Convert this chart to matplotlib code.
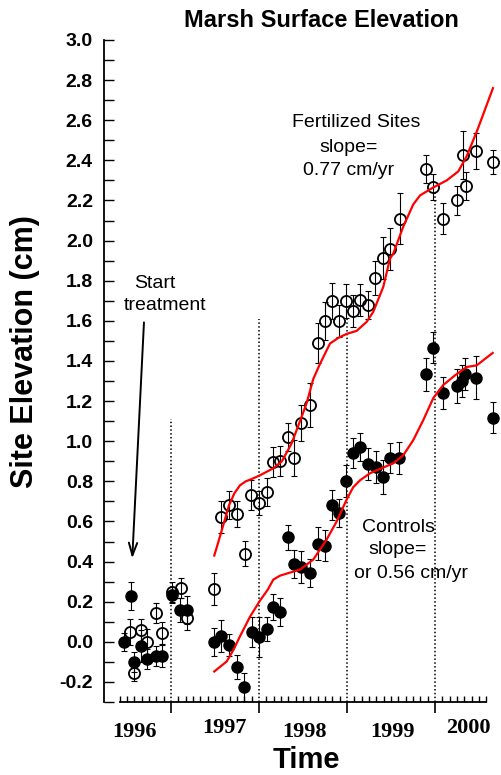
"""
Marsh surface elevation - fertilized vs control sites, 1996-2000.
"""

import matplotlib
matplotlib.use("Agg")
import matplotlib.pyplot as plt
import numpy as np

# --- data (x in decimal years, y in cm) -------------------------------------

ctrl_x = [1996.466, 1996.542, 1996.580, 1996.656, 1996.731, 1996.826, 1996.901,
          1997.015, 1997.102, 1997.185, 1997.492, 1997.568, 1997.659, 1997.747,
          1997.833, 1997.917, 1998.000, 1998.088, 1998.163, 1998.239, 1998.326,
          1998.401, 1998.477, 1998.580, 1998.674, 1998.750, 1998.826, 1998.909,
          1998.989, 1999.072, 1999.148, 1999.239, 1999.330, 1999.406, 1999.494,
          1999.594, 1999.898, 1999.981, 2000.094, 2000.253, 2000.303, 2000.341,
          2000.463, 2000.656]
ctrl_y = [0.00, 0.23, -0.10, -0.02, -0.085, -0.07, -0.07,
          0.235, 0.16, 0.16, 0.00, 0.03, -0.015, -0.125,
          -0.225, 0.05, 0.025, 0.065, 0.175, 0.15, 0.52,
          0.39, 0.375, 0.345, 0.49, 0.48, 0.68, 0.64,
          0.80, 0.94, 0.97, 0.885, 0.87, 0.82, 0.915,
          0.915, 1.333, 1.466, 1.24, 1.275, 1.30, 1.333,
          1.317, 1.118]
ctrl_err = [0.045, 0.07, 0.05, 0.08, 0.05, 0.05, 0.055,
            0.04, 0.06, 0.07, 0.07, 0.08, 0.055, 0.06,
            0.07, 0.075, 0.10, 0.06, 0.065, 0.07, 0.06,
            0.07, 0.08, 0.07, 0.08, 0.075, 0.075, 0.07,
            0.08, 0.075, 0.07, 0.08, 0.08, 0.085, 0.075,
            0.08, 0.083, 0.078, 0.078, 0.083, 0.08, 0.08,
            0.107, 0.075]

fert_x = [1996.534, 1996.580, 1996.656, 1996.731, 1996.826, 1996.901,
          1997.015, 1997.110, 1997.185, 1997.492, 1997.572, 1997.659,
          1997.747, 1997.838, 1997.913, 1997.997, 1998.088, 1998.156,
          1998.239, 1998.326, 1998.398, 1998.477, 1998.580, 1998.670,
          1998.750, 1998.826, 1998.906, 1998.992, 1999.072, 1999.151,
          1999.242, 1999.324, 1999.406, 1999.492, 1999.602, 1999.898,
          1999.981, 2000.094, 2000.256, 2000.315, 2000.352, 2000.466,
          2000.656]
fert_y = [0.05, -0.155, 0.06, 0.00, 0.145, 0.045,
          0.25, 0.27, 0.12, 0.265, 0.62, 0.68,
          0.635, 0.44, 0.73, 0.69, 0.745, 0.895,
          0.90, 1.02, 0.915, 1.09, 1.18, 1.49,
          1.60, 1.70, 1.60, 1.70, 1.65, 1.705,
          1.68, 1.815, 1.915, 1.96, 2.11, 2.357,
          2.265, 2.11, 2.20, 2.425, 2.27, 2.448,
          2.39]
fert_err = [0.065, 0.04, 0.055, 0.065, 0.05, 0.055,
            0.05, 0.05, 0.06, 0.08, 0.08, 0.07,
            0.065, 0.063, 0.075, 0.06, 0.07, 0.075,
            0.075, 0.07, 0.09, 0.09, 0.11, 0.10,
            0.095, 0.09, 0.08, 0.085, 0.08, 0.08,
            0.07, 0.085, 0.105, 0.105, 0.125, 0.07,
            0.065, 0.075, 0.07, 0.12, 0.07, 0.09,
            0.06]

# red model curves
fert_fit_x = [1997.492, 1997.540, 1997.580, 1997.659, 1997.720, 1997.784,
              1997.850, 1997.909, 1998.011, 1998.163, 1998.261, 1998.372,
              1998.466, 1998.542, 1998.617, 1998.693, 1998.807, 1998.901,
              1998.997, 1999.110, 1999.224, 1999.299, 1999.413, 1999.489,
              1999.526, 1999.640, 1999.753, 1999.830, 1999.886, 1999.981,
              2000.133, 2000.265, 2000.360, 2000.481, 2000.659]
fert_fit_y = [0.43, 0.50, 0.56, 0.68, 0.74, 0.78,
              0.80, 0.81, 0.83, 0.865, 0.90, 0.99,
              1.10, 1.19, 1.31, 1.385, 1.487, 1.515,
              1.535, 1.55, 1.595, 1.645, 1.77, 1.91,
              1.935, 2.07, 2.18, 2.225, 2.24, 2.265,
              2.30, 2.345, 2.42, 2.55, 2.76]
ctrl_fit_x = [1997.492, 1997.633, 1997.710, 1997.784, 1997.898, 1998.011,
              1998.100, 1998.163, 1998.240, 1998.315, 1998.466, 1998.617,
              1998.769, 1998.883, 1998.997, 1999.070, 1999.148, 1999.261,
              1999.338, 1999.526, 1999.640, 1999.753, 1999.867, 1999.981,
              2000.094, 2000.227, 2000.360, 2000.474, 2000.656]
ctrl_fit_y = [-0.148, -0.098, -0.04, 0.027, 0.125, 0.205,
              0.26, 0.31, 0.33, 0.34, 0.36, 0.41,
              0.51, 0.60, 0.71, 0.77, 0.805, 0.84,
              0.855, 0.89, 0.93, 1.005, 1.105, 1.215,
              1.28, 1.328, 1.37, 1.378, 1.44]

# dotted year dividers and how high they reach
divider_years = [1997, 1998, 1999, 2000]
divider_tops = [1.11, 1.61, 1.61, 2.24]

year_labels = ["1996", "1997", "1998", "1999", "2000"]
year_label_x = [1996.59, 1997.61, 1998.52, 1999.52, 2000.38]
year_label_y = [-0.45, -0.43, -0.45, -0.45, -0.43]

SANS = "Liberation Sans"
SERIF = "Liberation Serif"

fig = plt.figure(figsize=(5.02, 7.75), dpi=100)
ax = fig.add_axes([0.2072, 0.0942, 0.7888, 0.8542])

ax.vlines(divider_years, -0.3, divider_tops, colors="black",
          linestyles=(0, (1, 1.5)), linewidth=1.1, zorder=1)

ax.errorbar(fert_x, fert_y, yerr=fert_err, fmt="none", ecolor="black",
            elinewidth=0.8, capsize=2.5, capthick=0.8, zorder=2)
ax.errorbar(ctrl_x, ctrl_y, yerr=ctrl_err, fmt="none", ecolor="black",
            elinewidth=0.8, capsize=2.5, capthick=0.8, zorder=2)
ax.plot(fert_x, fert_y, "o", ms=8, mfc="none", mec="black", mew=1.3,
        zorder=3)
ax.plot(ctrl_x, ctrl_y, "o", ms=8, mfc="black", mec="black", zorder=3)

ax.plot(fert_fit_x, fert_fit_y, color="red", lw=1.6, zorder=4)
ax.plot(ctrl_fit_x, ctrl_fit_y, color="red", lw=1.6, zorder=4)

ax.set_xlim(1996.239, 2000.739)
ax.set_ylim(-0.30, 3.0)

for s in ("top", "right"):
    ax.spines[s].set_visible(False)
for s in ("left", "bottom"):
    ax.spines[s].set_linewidth(1.3)
ax.spines["bottom"].set_bounds(1996 + 5 / 12, 2000 + 7 / 12)

# x axis: monthly inward ticks, year boundaries pointing down
ax.set_xticks(divider_years)
ax.set_xticklabels([])
ax.set_xticks(np.arange(1996 + 5 / 12, 2000.6, 1 / 12), minor=True)
ax.tick_params(axis="x", which="major", direction="out", length=8, width=1.2)
ax.tick_params(axis="x", which="minor", direction="in", length=4.5, width=1.0)

# y axis
ax.set_yticks(np.round(np.arange(-0.2, 3.01, 0.2), 1))
ax.set_yticks(np.round(np.arange(-0.3, 3.01, 0.1), 1), minor=True)
ax.set_yticklabels([f"{v:.1f}" for v in np.arange(-0.2, 3.01, 0.2)],
                   fontfamily=SANS, fontweight="bold", fontsize=14)
ax.tick_params(axis="y", which="both", direction="in", length=7, width=1.0,
               pad=8)

for lab, xx, yy in zip(year_labels, year_label_x, year_label_y):
    ax.text(xx, yy, lab, ha="center", va="center", fontfamily=SERIF,
            fontweight="bold", fontsize=16, clip_on=False)

fig.text(0.611, 0.019, "Time", ha="center", va="center", fontfamily=SANS,
         fontweight="bold", fontsize=21)
fig.text(0.050, 0.547, "Site Elevation (cm)", rotation=90, ha="center",
         va="center", fontfamily=SANS, fontweight="bold", fontsize=22)
fig.text(0.640, 0.973, "Marsh Surface Elevation", ha="center", va="center",
         fontfamily=SANS, fontweight="bold", fontsize=17)

# annotations
txt = dict(ha="center", va="center", fontfamily=SANS, fontsize=14)
ax.text(1999.10, 2.587, "Fertilized Sites", **txt)
ax.text(1999.02, 2.463, "slope=", **txt)
ax.text(1999.02, 2.348, "0.77 cm/yr", **txt)
ax.text(1999.58, 0.572, "Controls", **txt)
ax.text(1999.58, 0.458, "slope=", **txt)
ax.text(1999.73, 0.343, "or 0.56 cm/yr", **txt)
ax.text(1996.82, 1.786, "Start", **txt)
ax.text(1996.93, 1.677, "treatment", **txt)

ax.annotate("", xy=(1996.560, 0.416), xytext=(1996.693, 1.592),
            arrowprops=dict(arrowstyle="->,head_length=0.9,head_width=0.3",
                            color="black", lw=1.4, shrinkA=0, shrinkB=0))

fig.savefig("out.png", dpi=100)
